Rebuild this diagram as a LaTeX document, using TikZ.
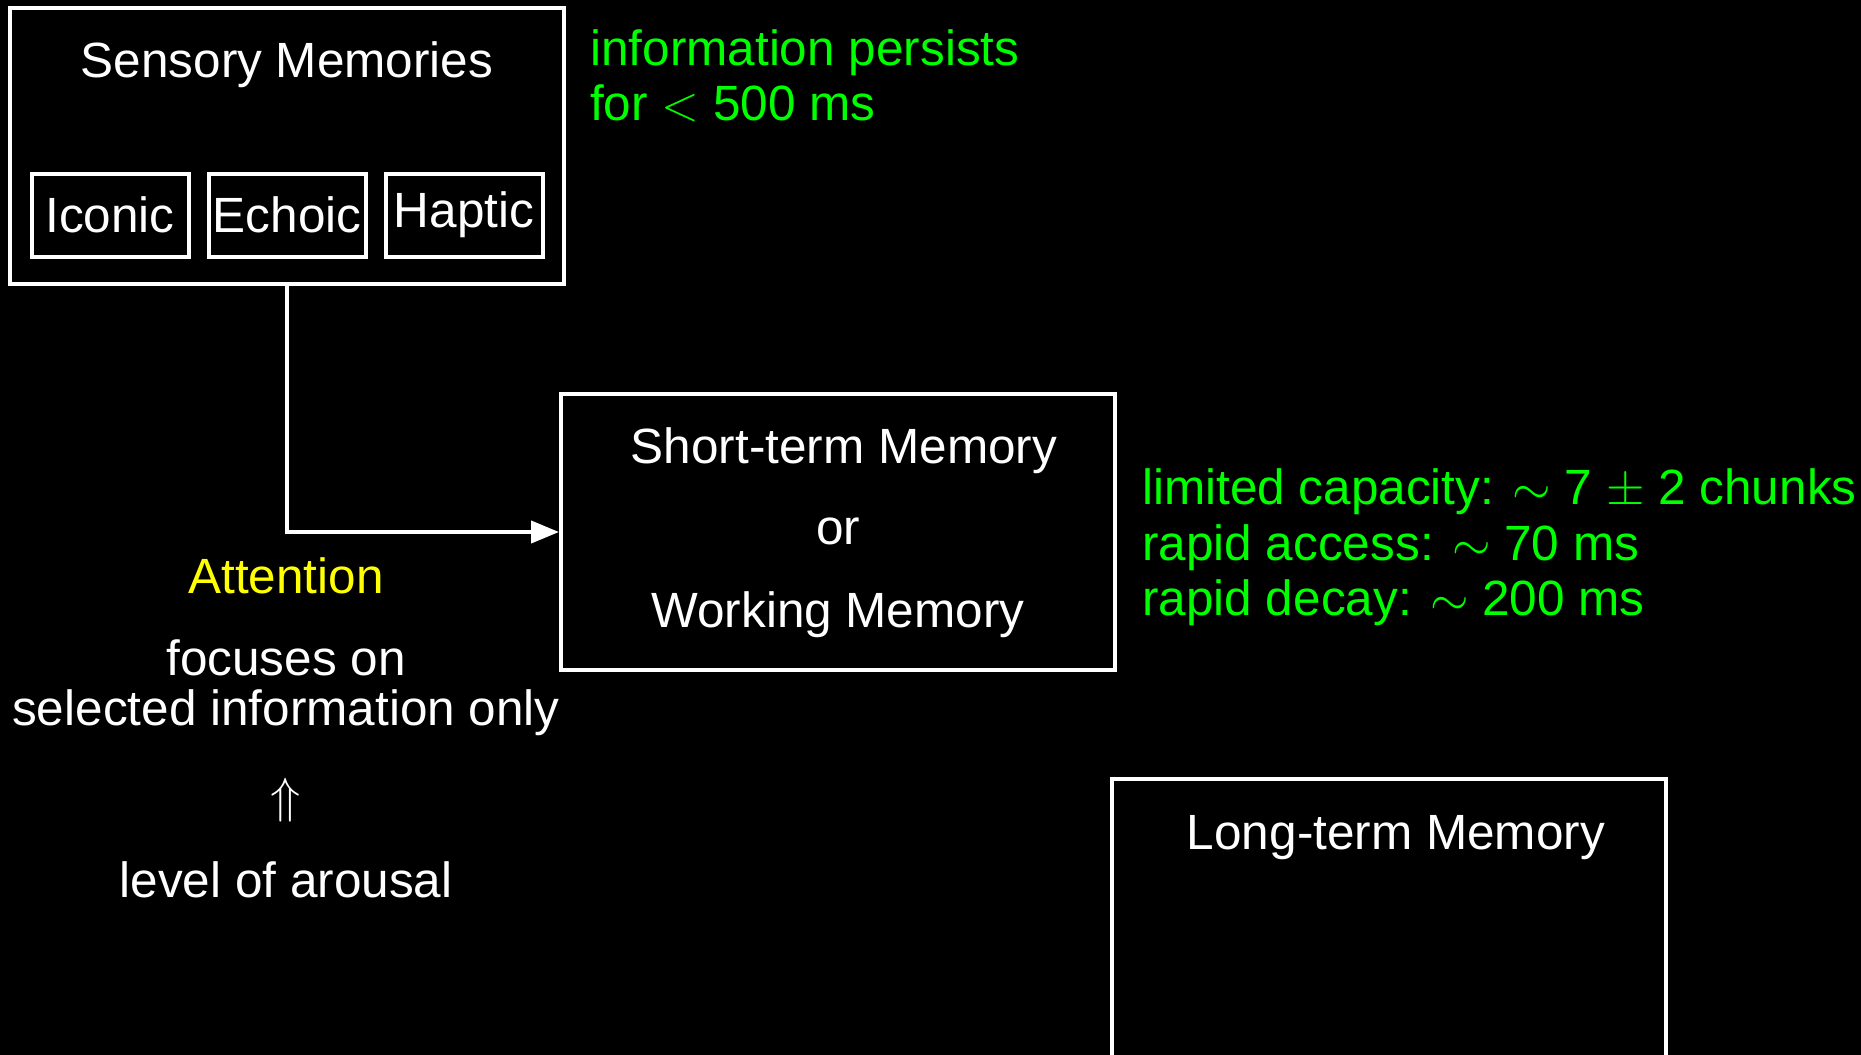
\documentclass[tikz,border=0pt]{standalone}
\usepackage{fix-cm}
\usepackage{fontspec}
\setmainfont{Liberation Sans}
\usetikzlibrary{arrows.meta,positioning}

\definecolor{notegreen}{RGB}{0,255,0}
\definecolor{attnyellow}{RGB}{255,255,0}
\newcommand\memfont{\fontsize{49.5}{55}\selectfont}

\begin{document}
\begin{tikzpicture}[
    x=1pt, y=-1pt,
    mem/.style={
        draw=white, line width=4pt, inner sep=0pt,
        minimum width=554pt, minimum height=276pt
    },
    sub/.style={
        draw=white, line width=4pt, inner sep=0pt,
        minimum width=157pt, minimum height=83pt,
        text=white, font=\memfont
    },
    txt/.style={text=white, font=\memfont, inner sep=0pt, anchor=base},
    note/.style={text=notegreen, font=\memfont, inner sep=0pt, anchor=base west},
    edge/.style={draw=white, line width=4pt, -{Triangle[length=28pt,width=22pt]}}
]

\fill[black] (0,0) rectangle (1861,1055);
\useasboundingbox (0,0) rectangle (1861,1055);

% 1. Sensory memories
\node[mem] (sensory) at (287,146) {};
\node[txt] (sensory_title) at (287,77) {Sensory Memories};
\node[sub] (iconic) at (110,215) {Iconic};
\node[sub] (echoic) at (287,215) {Echoic};
\node[sub] (haptic) at (464,215) {Haptic};
\node[note] (persist1) at (590,65) {information persists};
\node[note] (persist2) at (590,120) {for $<$ 500 ms};

% 2. Short-term memory
\node[mem] (stm) at (838,532) {};
\node[txt] (stm1) at (844,463) {Short-term Memory};
\node[txt] (stm2) at (838,544) {or};
\node[txt] (stm3) at (838,627) {Working Memory};
\node[note] (cap1) at (1142,504) {limited capacity: $\sim$ 7 $\pm$ 2 chunks};
\node[note] (cap2) at (1142,560) {rapid access: $\sim$ 70 ms};
\node[note] (cap3) at (1142,615) {rapid decay: $\sim$ 200 ms};

% 3. Attention
\node[txt, text=attnyellow] (attn) at (286,593) {Attention};
\node[txt] (focus1) at (286,675) {focuses on};
\node[txt] (focus2) at (286,725) {selected information only};
\node[txt, anchor=center] (uparr) at (286,800) {$\Uparrow$};
\node[txt] (arousal) at (286,897) {level of arousal};

% 4. Long-term memory (runs past the bottom edge)
\node[mem, minimum height=290pt] (ltm) at (1389,924) {};
\node[txt] (ltm_title) at (1396,849) {Long-term Memory};

% Connector
\draw[edge] (sensory.south) |- (stm.west);

\end{tikzpicture}
\end{document}
